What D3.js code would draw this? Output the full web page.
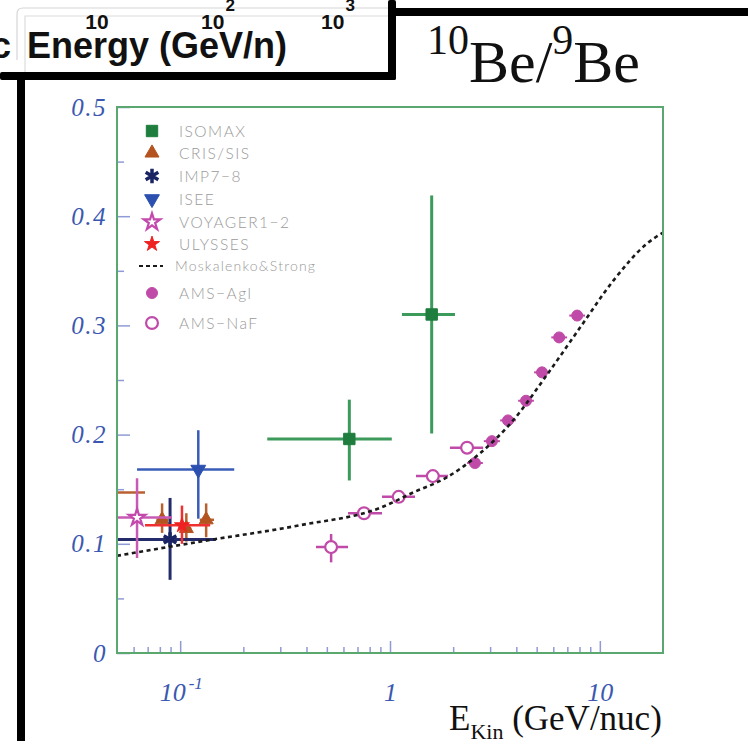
<!DOCTYPE html>
<html>
<head>
<meta charset="utf-8">
<script src="https://cdn.jsdelivr.net/npm/d3@7"></script>
<style>
  body { margin: 0; background: #fff; }
  svg { display: block; }
</style>
</head>
<body>
<svg id="chart" width="748" height="741"></svg>
<script>
// Each row: [E (GeV/nuc), ratio, E low, E high, ratio low, ratio high]
const isomax = [
  [0.64, 0.196, 0.26, 1.02, 0.158, 0.232],
  [1.58, 0.310, 1.14, 2.04, 0.201, 0.419]
];
const crisSis = [
  [0.045, 0.147, 0.03, 0.068, 0.147, 0.147],
  [0.082, 0.122, 0.077, 0.088, 0.110, 0.137],
  [0.107, 0.114, 0.101, 0.113, 0.102, 0.128],
  [0.133, 0.122, 0.124, 0.145, 0.106, 0.137]
];
const imp78 = [
  [0.0895, 0.104, 0.04, 0.148, 0.067, 0.142]
];
const isee = [
  [0.122, 0.168, 0.0623, 0.181, 0.123, 0.204]
];
const voyager = [
  [0.0623, 0.124, 0.04, 0.0914, 0.087, 0.160]
];
const ulysses = [
  [0.102, 0.117, 0.068, 0.139, 0.100, 0.135]
];
const amsAgl = [
  [2.54, 0.174, 2.33, 2.77, 0.170, 0.178],
  [3.06, 0.194, 2.80, 3.34, 0.190, 0.198],
  [3.65, 0.213, 3.35, 3.98, 0.209, 0.217],
  [4.45, 0.231, 4.08, 4.85, 0.227, 0.235],
  [5.30, 0.257, 4.86, 5.78, 0.253, 0.261],
  [6.40, 0.289, 5.87, 6.98, 0.285, 0.293],
  [7.80, 0.309, 7.15, 8.50, 0.305, 0.313]
];
const amsNaF = [
  [0.524, 0.097, 0.444, 0.631, 0.083, 0.109],
  [0.752, 0.128, 0.631, 0.916, 0.128, 0.128],
  [1.10, 0.143, 0.916, 1.316, 0.143, 0.143],
  [1.60, 0.162, 1.33, 1.89, 0.162, 0.162],
  [2.33, 0.188, 1.93, 2.78, 0.188, 0.188]
];
// Moskalenko & Strong propagation model
const modelE     = [0.05, 0.124, 0.372, 0.9, 1.29, 1.87, 2.69, 3.86, 5.61, 8.05, 11.6, 16.8, 20];
const modelRatio = [0.089, 0.102, 0.117, 0.133, 0.147, 0.161, 0.183, 0.213, 0.255, 0.298, 0.341, 0.375, 0.385];

const yMajor = [0, 0.1, 0.2, 0.3, 0.4, 0.5];
const yMinor = [0.05, 0.15, 0.25, 0.35, 0.45];
const xMajor = [0.1, 1, 10];
const xMinor = [0.06, 0.07, 0.08, 0.09, 0.2, 0.3, 0.4, 0.5, 0.6, 0.7, 0.8, 0.9, 2, 3, 4, 5, 6, 7, 8, 9];

const svg = d3.select("#chart");
const frame = { left: 117, top: 107, right: 663, bottom: 653 };

const x = d3.scaleLog().domain([0.05, 20]).range([frame.left, frame.right]);
const y = d3.scaleLinear().domain([0, 0.5]).range([frame.bottom, frame.top]);

// ---- inset fragment of a neighbouring panel (top-left) ----
const inset = svg.append("g");
inset.append("rect").attr("x", 0).attr("y", 0).attr("width", 392).attr("height", 76).attr("fill", "#fff");
inset.append("path").attr("d", "M17,60 L17,14 Q17,8 23,8 L390,8")
  .attr("fill", "none").attr("stroke", "#d6d6d6").attr("stroke-width", 1.2);
inset.append("path").attr("d", "M25,73 L25,16 L390,16")
  .attr("fill", "none").attr("stroke", "#dcdcdc").attr("stroke-width", 1.2);
const insetTicks = [{ x: 97, t: "10", sup: "" }, { x: 218, t: "10", sup: "2" }, { x: 338, t: "10", sup: "3" }];
insetTicks.forEach(d => {
  const t = inset.append("text").attr("x", d.x).attr("y", 29)
    .attr("text-anchor", "middle")
    .attr("font-family", "Liberation Sans, Arial, sans-serif").attr("font-weight", "bold")
    .attr("font-size", 21).attr("fill", "#111");
  t.append("tspan").text(d.t);
  if (d.sup) t.append("tspan").attr("font-size", 17).attr("dy", -18).attr("dx", 1).text(d.sup);
});
inset.append("text").attr("x", 11).attr("y", 58).attr("text-anchor", "end")
  .attr("font-family", "Liberation Sans, Arial, sans-serif").attr("font-weight", "bold")
  .attr("font-size", 36).attr("fill", "#111").text("c");
inset.append("text").attr("x", 27).attr("y", 58)
  .attr("font-family", "Liberation Sans, Arial, sans-serif").attr("font-weight", "bold")
  .attr("font-size", 36).attr("fill", "#111").text("Energy (GeV/n)");

// black panel borders
const borders = svg.append("g").attr("fill", "#000");
borders.append("rect").attr("x", 0).attr("y", 72).attr("width", 396).attr("height", 8).attr("rx", 2);
borders.append("rect").attr("x", 388).attr("y", 0).attr("width", 8).attr("height", 80).attr("rx", 2);
borders.append("rect").attr("x", 388).attr("y", 8).attr("width", 360).attr("height", 8);
borders.append("rect").attr("x", 17).attr("y", 72).attr("width", 8).attr("height", 669);

// ---- title ----
const title = svg.append("text").attr("x", 427).attr("y", 82)
  .attr("font-family", "Liberation Serif, Times New Roman, serif")
  .attr("font-size", 60).attr("fill", "#111");
title.append("tspan").attr("font-size", 42).attr("dy", -28).text("10");
title.append("tspan").attr("dy", 28).text("Be/");
title.append("tspan").attr("font-size", 42).attr("dy", -28).text("9");
title.append("tspan").attr("dy", 28).text("Be");

// ---- axes ----
const tickColor = "#8f9bd6";
const labelColor = "#3b58b0";

const yAxis = svg.append("g").attr("transform", `translate(${frame.left},0)`)
  .call(d3.axisLeft(y).tickValues(yMajor).tickSizeInner(-13).tickSizeOuter(0).tickPadding(10)
    .tickFormat(d => d === 0 ? "0" : d3.format(".1f")(d)));
yAxis.select(".domain").remove();
yAxis.selectAll("line").attr("stroke", tickColor).attr("stroke-width", 1.5);
yAxis.selectAll("text").attr("font-family", "Liberation Serif, Times New Roman, serif")
  .attr("font-style", "italic").attr("font-size", 25).attr("letter-spacing", 1.5)
  .attr("fill", labelColor);

const yAxisMinor = svg.append("g").attr("transform", `translate(${frame.left},0)`)
  .call(d3.axisLeft(y).tickValues(yMinor).tickSizeInner(-7).tickSizeOuter(0).tickFormat(""));
yAxisMinor.select(".domain").remove();
yAxisMinor.selectAll("line").attr("stroke", tickColor).attr("stroke-width", 1.5);

const xAxis = svg.append("g").attr("transform", `translate(0,${frame.bottom})`)
  .call(d3.axisBottom(x).tickValues(xMajor).tickSizeInner(-12).tickSizeOuter(0).tickPadding(30)
    .tickFormat(d => d === 0.1 ? "10" : d3.format("d")(d)));
xAxis.select(".domain").remove();
xAxis.selectAll("line").attr("stroke", tickColor).attr("stroke-width", 1.5);
xAxis.selectAll("text").attr("font-family", "Liberation Serif, Times New Roman, serif")
  .attr("font-style", "italic").attr("font-size", 26).attr("fill", labelColor);
xAxis.selectAll(".tick text").filter(d => d === 0.1)
  .attr("text-anchor", "start").attr("x", -21)
  .append("tspan").attr("font-size", 17).attr("dy", -12).attr("dx", 3).text("-1");

const xAxisMinor = svg.append("g").attr("transform", `translate(0,${frame.bottom})`)
  .call(d3.axisBottom(x).tickValues(xMinor).tickSizeInner(-6).tickSizeOuter(0).tickFormat(""));
xAxisMinor.select(".domain").remove();
xAxisMinor.selectAll("line").attr("stroke", tickColor).attr("stroke-width", 1.5);

// x axis title
const xTitle = svg.append("text").attr("x", 449).attr("y", 730)
  .attr("font-family", "Liberation Serif, Times New Roman, serif")
  .attr("font-size", 35).attr("fill", "#111");
xTitle.append("tspan").text("E");
xTitle.append("tspan").attr("font-size", 22).attr("dy", 9).text("Kin");
xTitle.append("tspan").attr("dy", -9).text(" (GeV/nuc)");

// ---- data ----
svg.append("clipPath").attr("id", "plotClip").append("rect")
  .attr("x", frame.left).attr("y", frame.top)
  .attr("width", frame.right - frame.left).attr("height", frame.bottom - frame.top);
const plot = svg.append("g").attr("clip-path", "url(#plotClip)");

const series = [
  { name: "ISOMAX", data: isomax, color: "#1f7d3e", bar: "#3c9a5a", sym: d3.symbolSquare, size: 130, fill: true, bw: 3 },
  { name: "CRIS/SIS", data: crisSis, color: "#b4531f", bar: "#b86030", sym: d3.symbolTriangle, size: 85, fill: true, bw: 2.5 },
  { name: "IMP7\u22128", data: imp78, color: "#1b2463", bar: "#242c6c", sym: d3.symbolAsterisk, size: 150, fill: false, bw: 3 },
  { name: "ISEE", data: isee, color: "#2c50b0", bar: "#3a5cb8", sym: d3.symbolTriangle, size: 95, fill: true, rot: 180, bw: 2.5 },
  { name: "VOYAGER1\u22122", data: voyager, color: "#c449ac", bar: "#c85ab4", sym: d3.symbolStar, size: 85, fill: false, bw: 2.5 },
  { name: "ULYSSES", data: ulysses, color: "#ee2222", bar: "#f03030", sym: d3.symbolStar, size: 70, fill: true, bw: 2.5 },
  { name: "AMS\u2212Agl", data: amsAgl, color: "#c04aa8", bar: "#c04aa8", sym: d3.symbolCircle, size: 95, fill: true, bw: 2 },
  { name: "AMS\u2212NaF", data: amsNaF, color: "#c04aa8", bar: "#c04aa8", sym: d3.symbolCircle, size: 110, fill: false, bw: 2.5 }
];

function symbolPath(s, g, cx, cy) {
  g.append("path")
    .attr("d", d3.symbol().type(s.sym).size(s.size)())
    .attr("transform", `translate(${cx},${cy})` + (s.rot ? ` rotate(${s.rot})` : ""))
    .attr("fill", s.fill ? s.color : (s.sym === d3.symbolAsterisk ? "none" : "#fff"))
    .attr("stroke", s.color)
    .attr("stroke-width", s.sym === d3.symbolAsterisk ? 3.5 : (s.fill ? 1 : 2.2));
}

function drawSeries(s) {
  const g = plot.append("g");
  s.data.forEach(d => {
    const [e, v, eLo, eHi, vLo, vHi] = d;
    g.append("line").attr("x1", x(eLo)).attr("x2", x(eHi)).attr("y1", y(v)).attr("y2", y(v))
      .attr("stroke", s.bar).attr("stroke-width", s.bw);
    if (vHi > vLo) {
      g.append("line").attr("x1", x(e)).attr("x2", x(e)).attr("y1", y(vLo)).attr("y2", y(vHi))
        .attr("stroke", s.bar).attr("stroke-width", s.bw);
    }
    symbolPath(s, g, x(e), y(v));
  });
}
series.forEach(drawSeries);

// model curve
const modelLine = d3.line().x(d => x(d[0])).y(d => y(d[1])).curve(d3.curveMonotoneX);
plot.append("path")
  .datum(modelE.map((e, i) => [e, modelRatio[i]]))
  .attr("d", modelLine)
  .attr("fill", "none").attr("stroke", "#1a1a1a").attr("stroke-width", 2.6)
  .attr("stroke-dasharray", "4,3.5");

// frame
svg.append("rect").attr("x", frame.left).attr("y", frame.top)
  .attr("width", frame.right - frame.left).attr("height", frame.bottom - frame.top)
  .attr("fill", "none").attr("stroke", "#5aa870").attr("stroke-width", 2);

// ---- legend ----
const legendRows = [131, 153, 176, 199, 222, 244, 266, 293, 323];
const legendItems = series.slice(0, 6).map(s => ({ s, label: s.name }))
  .concat([{ model: true, label: "Moskalenko&Strong" }])
  .concat(series.slice(6).map(s => ({ s, label: s.name })));
const legend = svg.append("g");
legendItems.forEach((it, i) => {
  const ly = legendRows[i];
  if (it.model) {
    legend.append("line").attr("x1", 139).attr("x2", 163).attr("y1", ly).attr("y2", ly)
      .attr("stroke", "#1a1a1a").attr("stroke-width", 2).attr("stroke-dasharray", "4,3");
  } else {
    symbolPath(it.s, legend, 152, ly);
  }
  legend.append("text").attr("x", it.model ? 175 : 179).attr("y", ly)
    .attr("dy", "0.36em")
    .attr("font-family", "Lato, 'Open Sans', sans-serif").attr("font-weight", 300)
    .attr("font-size", it.model ? 14 : 15.5)
    .attr("letter-spacing", it.model ? 1.2 : 1.5)
    .attr("fill", "#9a9a9a").text(it.label);
});
</script>
</body>
</html>
